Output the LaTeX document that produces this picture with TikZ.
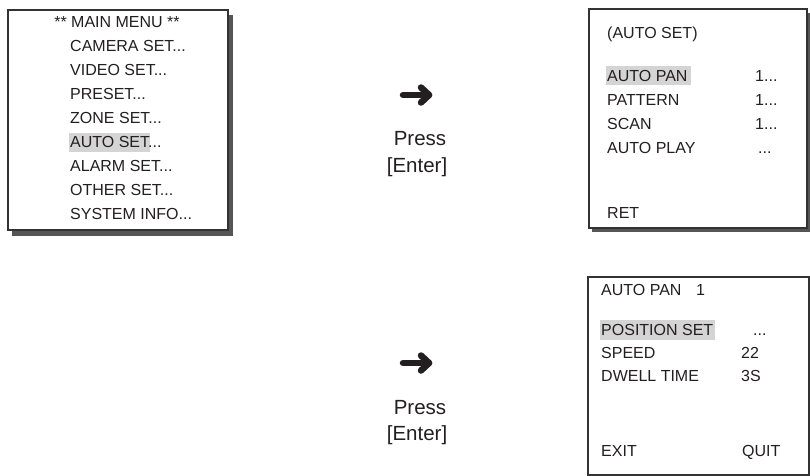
\documentclass[tikz,border=0pt]{standalone}
\usepackage{fontspec}
\setmainfont{Liberation Sans}
\definecolor{ink}{HTML}{231F20}
\definecolor{shade}{HTML}{555555}
\definecolor{hlgray}{HTML}{D4D4D4}
\definecolor{border}{HTML}{333333}
\begin{document}
\begin{tikzpicture}[x=1pt,y=-1pt,
  txt/.style={inner sep=0pt, text height=11.6pt, text depth=0pt, font=\fontsize{16}{18}\selectfont, text=ink},
  lt/.style={txt, anchor=west},
  bigtxt/.style={inner sep=0pt, text height=14.7pt, text depth=0pt, font=\fontsize{20.5}{24}\selectfont, text=ink},
  menubox/.style={draw=border, line width=1.5pt, fill=white, inner sep=0pt, anchor=north west},
  shadowfill/.style={fill=shade, draw=none},
  hl/.style={fill=hlgray, draw=none},
  bigarrow/.style={line width=6.5pt, line cap=round, line join=round, draw=ink}]
\useasboundingbox (0,0) rectangle (810,475);

% ---------- main menu ----------
\fill[shadowfill] (12,15) rectangle (233,236);
\node[menubox, minimum width=220pt, minimum height=220pt] (main) at (7,9) {};
\fill[hl] (69,133) rectangle (150,152);
\node[txt] (mtitle) at (117,22) {** MAIN MENU **};
\node[lt] (m1) at (70,45.9) {CAMERA SET...};
\node[lt] (m2) at (70,69.8) {VIDEO SET...};
\node[lt] (m3) at (70,93.7) {PRESET...};
\node[lt] (m4) at (70,117.6) {ZONE SET...};
\node[lt] (m5) at (70,141.5) {AUTO SET...};
\node[lt] (m6) at (70,165.4) {ALARM SET...};
\node[lt] (m7) at (70,189.3) {OTHER SET...};
\node[lt] (m8) at (70,213.2) {SYSTEM INFO...};

% ---------- auto set menu ----------
\fill[shadowfill] (592,13) rectangle (811,232);
\node[menubox, minimum width=218pt, minimum height=219pt] (auto) at (588,8) {};
\fill[hl] (606,66) rectangle (691,85);
\node[lt] (atitle) at (607,33) {(AUTO SET)};
\node[lt] (a1) at (607,76) {AUTO PAN};
\node[lt] (a2) at (607,100) {PATTERN};
\node[lt] (a3) at (607,124) {SCAN};
\node[lt] (a4) at (607,148) {AUTO PLAY};
\node[lt] (a5) at (607,213) {RET};
\node[lt] (v1) at (755,76) {1...};
\node[lt] (v2) at (755,100) {1...};
\node[lt] (v3) at (755,124) {1...};
\node[lt] (v4) at (758,148) {...};

% ---------- auto pan menu ----------
\node[menubox, minimum width=221pt, minimum height=198pt] (pan) at (587,276) {};
\fill[hl] (600,320) rectangle (715,340);
\node[lt] (ptitle) at (601,290) {AUTO PAN};
\node[lt] (pnum) at (696,290) {1};
\node[lt] (p1) at (601,330) {POSITION SET};
\node[lt] (p2) at (601,353) {SPEED};
\node[lt] (p3) at (601,376) {DWELL TIME};
\node[lt] (p4) at (601,451) {EXIT};
\node[lt] (q1) at (753,330) {...};
\node[lt] (q2) at (741,353) {22};
\node[lt] (q3) at (741,376) {3S};
\node[lt] (q4) at (742,451) {QUIT};

% ---------- arrows ----------
\coordinate (ar1s) at (403,95);
\coordinate (ar1t) at (429,95);
\draw[bigarrow] (ar1s) -- (ar1t);
\draw[bigarrow] (421,87.5) -- (ar1t) -- (421,102.5);
\node[bigtxt] (press1) at (420,138) {Press};
\node[bigtxt] (enter1) at (417,165) {[Enter]};

\coordinate (ar2s) at (403,363);
\coordinate (ar2t) at (429,363);
\draw[bigarrow] (ar2s) -- (ar2t);
\draw[bigarrow] (421,355.5) -- (ar2t) -- (421,370.5);
\node[bigtxt] (press2) at (420,407) {Press};
\node[bigtxt] (enter2) at (417,433) {[Enter]};
\end{tikzpicture}
\end{document}
